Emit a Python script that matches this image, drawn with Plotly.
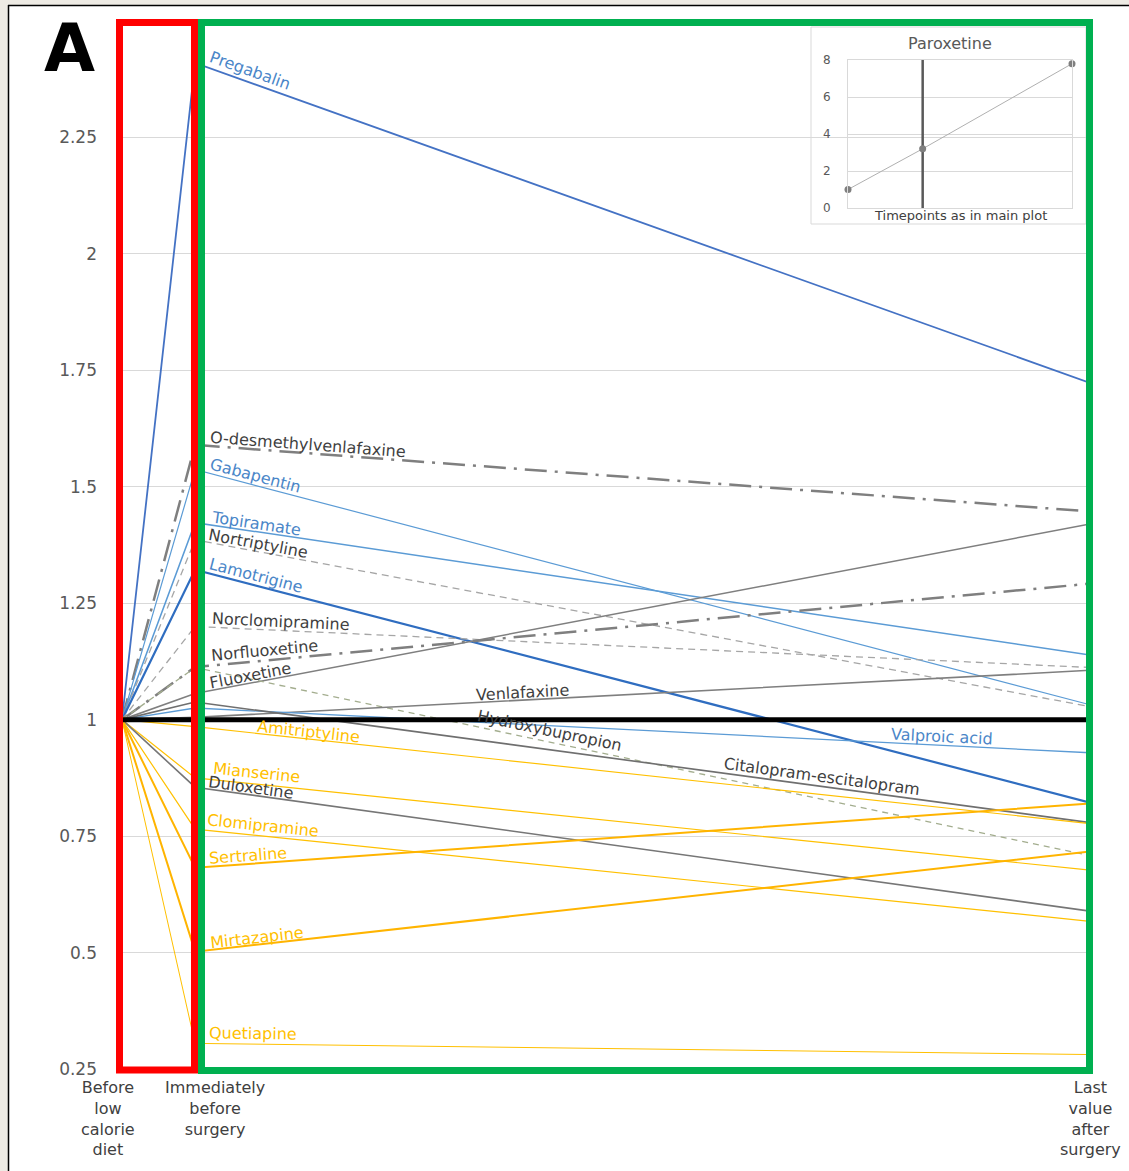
import math
import plotly.graph_objects as go

# ---------------- data ----------------
timepoints = [0, 1, 13.25]
timepoint_labels = ["Before<br>low<br>calorie<br>diet",
                    "Immediately<br>before<br>surgery",
                    "Last<br>value<br>after<br>surgery"]

drugs = ["Pregabalin", "O-desmethylvenlafaxine", "Gabapentin", "Topiramate",
         "Nortriptyline", "Lamotrigine", "Norclomipramine", "Norfluoxetine",
         "Fluoxetine", "Hydroxybupropion", "Venlafaxine", "Valproic acid",
         "Citalopram-escitalopram", "Amitriptyline", "Mianserine", "Duloxetine",
         "Clomipramine", "Sertraline", "Mirtazapine", "Quetiapine"]
before_diet = [1.0, 1.0, 1.0, 1.0, 1.0, 1.0, 1.0, 1.0, 1.0, 1.0,
               1.0, 1.0, 1.0, 1.0, 1.0, 1.0, 1.0, 1.0, 1.0, 1.0]
before_surgery = [2.41, 1.59, 1.537, 1.423, 1.386, 1.322, 1.20, 1.113, 1.056, 1.112,
                  1.005, 1.025, 1.038, 0.985, 0.875, 0.855, 0.765, 0.682, 0.502, 0.305]
after_surgery = [1.723, 1.447, 1.032, 1.139, 1.028, 0.822, 1.112, 1.292, 1.42, 0.708,
                 1.106, 0.929, 0.779, 0.777, 0.677, 0.589, 0.567, 0.82, 0.717, 0.281]
reference_level = [1.0, 1.0]

y_ticks = [0.25, 0.5, 0.75, 1, 1.25, 1.5, 1.75, 2, 2.25]
y_tick_text = ["0.25", "0.5", "0.75", "1", "1.25", "1.5", "1.75", "2", "2.25"]

paroxetine_x = [0, 1, 3]
paroxetine_y = [1.0, 3.2, 7.8]
inset_ticks = [0, 2, 4, 6, 8]

# ---------------- styles ----------------
BLUE = "#4472C4"; LBLUE = "#5B9BD5"; DBLUE = "#2F6DC0"
GRAY = "#7F7F7F"; LGRAY = "#A6A6A6"; GGRAY = "#A3AD8E"
GOLD = "#FFC000"; DGOLD = "#FFB400"
TXT_GRAY = "#3F3F3F"; TXT_BLUE = "#4A86C8"; TXT_GOLD = "#FFC000"
DASHDOT = "22px,8px,3px,8px"
DASH = "7px,5px"

# color, width, dash, label color, label centre (px), label offset (px)
styles = {
    "Pregabalin": (BLUE, 1.8, "solid", TXT_BLUE, 250, 12),
    "O-desmethylvenlafaxine": (GRAY, 2.5, DASHDOT, TXT_GRAY, 308, 9),
    "Gabapentin": (LBLUE, 1.2, "solid", TXT_BLUE, 255, 10),
    "Topiramate": (LBLUE, 1.5, "solid", TXT_BLUE, 256, 8),
    "Nortriptyline": (LGRAY, 1.3, DASH, TXT_GRAY, 258, 8),
    "Lamotrigine": (DBLUE, 2.2, "solid", TXT_BLUE, 256, 10),
    "Norclomipramine": (LGRAY, 1.3, DASH, TXT_GRAY, 281, 9),
    "Norfluoxetine": (GRAY, 2.5, DASHDOT, TXT_GRAY, 264, 10),
    "Fluoxetine": (GRAY, 1.5, "solid", TXT_GRAY, 250, 8),
    "Hydroxybupropion": (GGRAY, 1.3, "6px,5px", TXT_GRAY, 549, 11),
    "Venlafaxine": (GRAY, 1.6, "solid", TXT_GRAY, 522, 8),
    "Valproic acid": (LBLUE, 1.3, "solid", TXT_BLUE, 942, 9),
    "Citalopram-escitalopram": ("#6F6F6F", 1.6, "solid", TXT_GRAY, 822, 10),
    "Amitriptyline": (GOLD, 1.2, "solid", TXT_GOLD, 308, 7),
    "Mianserine": (GOLD, 1.2, "solid", TXT_GOLD, 256, 12),
    "Duloxetine": ("#767676", 1.6, "solid", TXT_GRAY, 251, 7),
    "Clomipramine": (GOLD, 1.2, "solid", TXT_GOLD, 263, 11),
    "Sertraline": (DGOLD, 2.0, "solid", TXT_GOLD, 248, 8),
    "Mirtazapine": (DGOLD, 2.0, "solid", TXT_GOLD, 257, 7),
    "Quetiapine": (GOLD, 1.0, "solid", TXT_GOLD, 253, 11),
}

W, H = 1129, 1171
PX_L, PX_R, PX_T, PX_B = 122, 1090, 21, 1069
Y_MIN, Y_MAX = 0.25, 2.5
X_MAX = timepoints[-1]
ppx = (PX_R - PX_L) / X_MAX
ppy = (PX_B - PX_T) / (Y_MAX - Y_MIN)
FONT = "DejaVu Sans"


def fx(px):
    return px / W


def fy(py):
    return 1 - py / H


fig = go.Figure()
annotations = []

for i, d in enumerate(drugs):
    col, wid, dash, tcol, lpx, off = styles[d]
    ys = [before_diet[i], before_surgery[i], after_surgery[i]]
    fig.add_trace(go.Scatter(
        x=timepoints, y=ys, mode="lines+markers", name=d,
        line=dict(color=col, width=wid, dash=dash),
        marker=dict(size=6, color=col), cliponaxis=False,
        xaxis="x", yaxis="y", showlegend=False))
    x2, x3 = timepoints[1], timepoints[2]
    y2, y3 = ys[1], ys[2]
    lx = (lpx - PX_L) / ppx
    ly = y2 + (lx - x2) / (x3 - x2) * (y3 - y2)
    ang = math.degrees(math.atan2((y2 - y3) * ppy, (x3 - x2) * ppx))
    annotations.append(dict(
        x=lx, y=ly, xref="x", yref="y", text=d, showarrow=False,
        textangle=ang, yshift=off, xanchor="center", yanchor="middle",
        font=dict(family=FONT, size=16, color=tcol)))

# reference line at 1
fig.add_trace(go.Scatter(x=[timepoints[0], timepoints[-1]], y=reference_level,
                         mode="lines", line=dict(color="black", width=5),
                         xaxis="x", yaxis="y", showlegend=False, cliponaxis=False))

# inset: Paroxetine
fig.add_trace(go.Scatter(x=[paroxetine_x[1], paroxetine_x[1]], y=[inset_ticks[0], inset_ticks[-1]],
                         mode="lines", line=dict(color="#595959", width=2.5),
                         xaxis="x2", yaxis="y2", showlegend=False))
fig.add_trace(go.Scatter(x=paroxetine_x, y=paroxetine_y, mode="lines+markers",
                         line=dict(color="#B0B0B0", width=1),
                         marker=dict(size=7, color="#7F7F7F"), cliponaxis=False,
                         xaxis="x2", yaxis="y2", showlegend=False))

# axis labels
label_px = [108, 215, 1090]
for t, px in zip(timepoint_labels, label_px):
    annotations.append(dict(x=fx(px), y=fy(1076), xref="paper", yref="paper", text=t,
                            showarrow=False, xanchor="center", yanchor="top", align="center",
                            font=dict(family=FONT, size=16, color="#404040")))

annotations.append(dict(x=fx(69), y=fy(49), xref="paper", yref="paper", text="<b>A</b>",
                        showarrow=False, xanchor="center", yanchor="middle",
                        font=dict(family=FONT, size=66, color="black")))
annotations.append(dict(x=fx(950), y=fy(43), xref="paper", yref="paper", text="Paroxetine",
                        showarrow=False, xanchor="center", yanchor="middle",
                        font=dict(family=FONT, size=16, color="#595959")))
annotations.append(dict(x=fx(960), y=fy(216), xref="paper", yref="paper",
                        text="Timepoints as in main plot",
                        showarrow=False, xanchor="center", yanchor="middle",
                        font=dict(family=FONT, size=13, color="#404040")))

shapes = [
    dict(type="rect", xref="paper", yref="paper", x0=0, x1=fx(8), y0=0, y1=1,
         fillcolor="#EEEBE4", line=dict(width=0), layer="below"),
    dict(type="rect", xref="paper", yref="paper", x0=0, x1=1, y0=fy(5), y1=1,
         fillcolor="#EEEBE4", line=dict(width=0), layer="below"),
    dict(type="line", xref="paper", yref="paper", x0=fx(8.5), x1=fx(8.5), y0=0, y1=fy(5),
         line=dict(color="black", width=1.5)),
    dict(type="line", xref="paper", yref="paper", x0=fx(8), x1=1, y0=fy(5.5), y1=fy(5.5),
         line=dict(color="black", width=1.5)),
    dict(type="rect", xref="paper", yref="paper", x0=fx(811), x1=fx(1086), y0=fy(224), y1=fy(27),
         fillcolor="white", line=dict(color="#D9D9D9", width=1), layer="below"),
    dict(type="rect", xref="paper", yref="paper", x0=fx(119.5), x1=fx(194.5), y0=fy(1070), y1=fy(22.5),
         line=dict(color="#FF0000", width=7)),
    dict(type="rect", xref="paper", yref="paper", x0=fx(201.5), x1=fx(1089.5), y0=fy(1070.5), y1=fy(22.5),
         line=dict(color="#00B050", width=7)),
]

fig.update_layout(
    width=W, height=H, margin=dict(l=0, r=0, t=0, b=0, autoexpand=False),
    paper_bgcolor="white", plot_bgcolor="rgba(0,0,0,0)",
    xaxis=dict(domain=[fx(PX_L), fx(PX_R)], range=[0, X_MAX], showgrid=False,
               zeroline=False, showticklabels=False, showline=False, fixedrange=True),
    yaxis=dict(domain=[fy(PX_B), fy(PX_T)], range=[Y_MIN, Y_MAX], tickmode="array",
               tickvals=y_ticks, ticktext=y_tick_text, showgrid=True, gridcolor="#D9D9D9",
               gridwidth=1, zeroline=False, showline=False, ticks="",
               ticklabelstandoff=24,
               tickfont=dict(family=FONT, size=17, color="#595959")),
    xaxis2=dict(domain=[fx(848), fx(1072)], range=[0, 3], anchor="y2", showgrid=False,
                zeroline=False, showticklabels=False, showline=True, mirror=True,
                linecolor="#D9D9D9", linewidth=1),
    yaxis2=dict(domain=[fy(208), fy(60)], range=[0, 8], anchor="x2", tickmode="array",
                tickvals=inset_ticks, showgrid=True, gridcolor="#D9D9D9", zeroline=False,
                showline=True, mirror=True, linecolor="#D9D9D9", linewidth=1,
                ticklabelstandoff=14,
                tickfont=dict(family=FONT, size=12, color="#595959")),
    annotations=annotations, shapes=shapes,
)

fig.write_html("out.html", config={"displayModeBar": False},
               post_script="document.body.style.margin='0px';document.body.style.overflow='hidden';")
